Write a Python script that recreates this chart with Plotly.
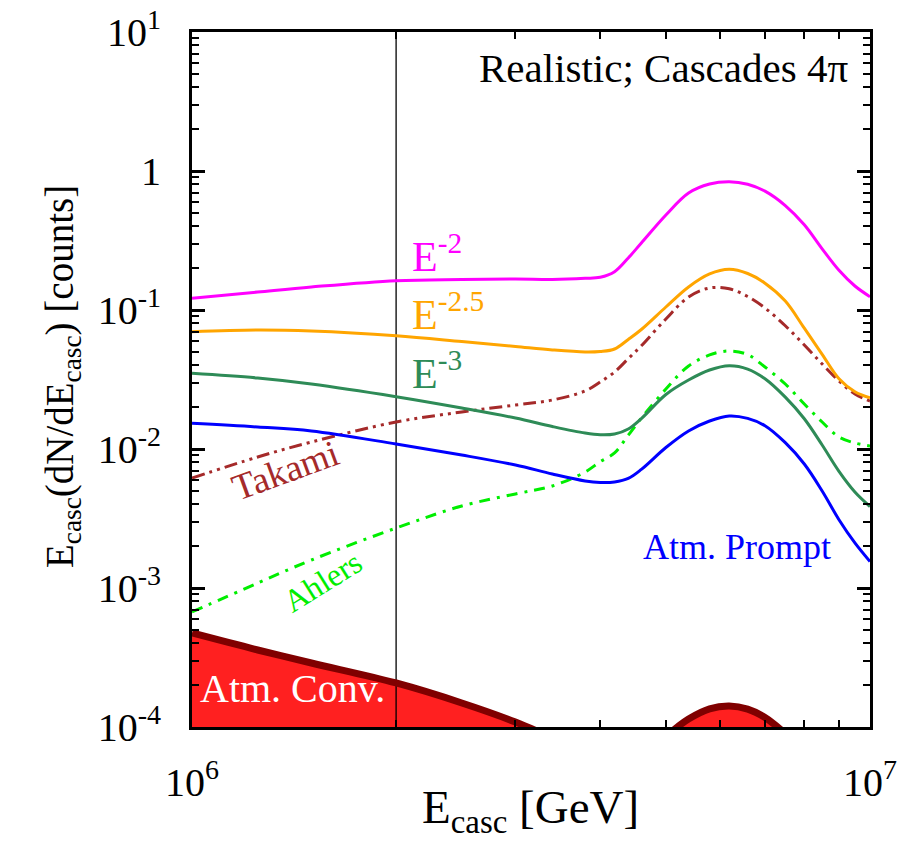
import plotly.graph_objects as go

# ---------------- data ----------------
E_grid = [1.0e6, 1.25e6, 1.5e6, 2.0e6, 2.5e6, 3.0e6, 3.4e6, 3.8e6, 4.0e6, 4.2e6, 4.4e6, 4.6e6, 5.0e6,
          5.4e6, 5.8e6, 6.2e6, 6.6e6, 7.0e6, 7.5e6, 8.0e6, 8.5e6, 9.0e6, 9.5e6, 1.0e7]

E2 = [0.1213, 0.1347, 0.1464, 0.1625, 0.1657, 0.1671, 0.1660, 0.1690, 0.1719, 0.1885, 0.2366, 0.3034, 0.4826,
      0.6945, 0.806, 0.8375, 0.803, 0.716, 0.564, 0.410, 0.275, 0.193, 0.1488, 0.1246]

E25 = [0.0698, 0.0718, 0.0706, 0.0653, 0.0593, 0.0546, 0.0516, 0.0499, 0.0503, 0.0524, 0.0614, 0.0724, 0.1051,
       0.1464, 0.1816, 0.1963, 0.1830, 0.1560, 0.1160, 0.0740, 0.0480, 0.0320, 0.0258, 0.0233]

E3 = [0.03505, 0.0324, 0.02935, 0.02378, 0.01972, 0.0167, 0.01452, 0.01303, 0.01266, 0.01282, 0.01393, 0.01655,
      0.02467, 0.03136, 0.03701, 0.03975, 0.03760, 0.03200, 0.02360, 0.01650, 0.01068, 0.00690, 0.0049, 0.00385]

prompt = [0.01531, 0.0144, 0.01348, 0.01086, 0.00905, 0.00767, 0.00661, 0.00589, 0.00574, 0.00579, 0.00614,
          0.00713, 0.01025, 0.01348, 0.0159, 0.01728, 0.01660, 0.01470, 0.01110, 0.0078, 0.00499, 0.00310,
          0.00211, 0.00155]

takami = [0.00618, 0.00876, 0.01123, 0.01564, 0.01846, 0.02073, 0.02252, 0.02615, 0.03034, 0.03581, 0.0447,
          0.05527, 0.08617, 0.1241, 0.144, 0.142, 0.1250, 0.1034, 0.077, 0.056, 0.0409, 0.03084, 0.02487,
          0.02215]

ahlers = [0.000672, 0.001086, 0.00159, 0.0027, 0.00389, 0.00475, 0.00542, 0.00683, 0.0081, 0.00936, 0.01257,
          0.0167, 0.027, 0.03955, 0.0475, 0.0507, 0.0478, 0.0389, 0.02935, 0.02107, 0.01564, 0.0122, 0.01104,
          0.01051]

conv_E_low = [1.0e6, 1.25e6, 1.5e6, 2.0e6, 2.5e6, 3.0e6, 3.3e6]
conv_low = [4.745e-4, 3.58e-4, 2.887e-4, 2.073e-4, 1.489e-4, 1.086e-4, 8.9e-5]

conv_E_bump = [5.0e6, 5.2e6, 5.4e6, 5.8e6, 6.2e6, 6.6e6, 7.0e6, 7.5e6]
conv_bump = [8.5e-5, 1.0e-4, 1.143e-4, 1.352e-4, 1.415e-4, 1.344e-4, 1.17e-4, 8.97e-5]

x_ticks = [1e6, 1e7]
x_ticktext = ['10<sup>6</sup>', '10<sup>7</sup>']
y_ticks = [1e-4, 1e-3, 1e-2, 1e-1, 1, 10]
y_ticktext = ['10<sup>-4</sup>', '10<sup>-3</sup>', '10<sup>-2</sup>', '10<sup>-1</sup>', '1', '10<sup>1</sup>']
E_cut = 2.0e6

# ---------------- figure ----------------
FONT = 'Liberation Serif'
W, H = 912, 856
L, R, T, B = 192, 870, 32, 727


def px(xp):
    return (xp - L) / (R - L)


def py(yp):
    return (B - yp) / (B - T)


fig = go.Figure()

FLOOR = 1e-6
# Atm. Conv. filled areas
fig.add_trace(go.Scatter(x=conv_E_low + [conv_E_low[-1], conv_E_low[0]],
                         y=conv_low + [FLOOR, FLOOR], mode='lines', fill='toself',
                         fillcolor='#ff2020', line=dict(width=0), hoverinfo='skip', showlegend=False))
fig.add_trace(go.Scatter(x=conv_E_bump + [conv_E_bump[-1], conv_E_bump[0]],
                         y=conv_bump + [FLOOR, FLOOR], mode='lines', fill='toself',
                         fillcolor='#ff2020', line=dict(width=0), hoverinfo='skip', showlegend=False))

# vertical line
fig.add_trace(go.Scatter(x=[E_cut, E_cut], y=[1e-4, 10], mode='lines',
                         line=dict(color='black', width=1.3), showlegend=False))

fig.add_trace(go.Scatter(x=conv_E_low, y=conv_low, mode='lines', line=dict(color='#800000', width=7, shape='spline'),
                         showlegend=False))
fig.add_trace(go.Scatter(x=conv_E_bump, y=conv_bump, mode='lines', line=dict(color='#800000', width=7, shape='spline'),
                         showlegend=False))

series = [
    (ahlers, '#00ee00', '11px,7px,3px,7px'),
    (takami, '#a52a2a', '13px,5px,3px,5px,3px,5px'),
    (prompt, '#0000ff', 'solid'),
    (E3, '#2e8b57', 'solid'),
    (E25, '#ffa500', 'solid'),
    (E2, '#ff00ff', 'solid'),
]
for ys, col, dash in series:
    fig.add_trace(go.Scatter(x=E_grid, y=ys, mode='lines',
                             line=dict(color=col, width=3, dash=dash, shape='spline', smoothing=1.0),
                             showlegend=False))

y_minor = [m * 10.0 ** k for k in range(-4, 1) for m in range(2, 10)]
x_minor = [m * 1e6 for m in range(2, 10)]

axis_common = dict(type='log', showgrid=False, zeroline=False, showline=True, linecolor='black', linewidth=3,
                   mirror='ticks', ticks='inside', ticklen=13, tickwidth=2.5, tickcolor='black',
                   tickmode='array', automargin=False, tickfont=dict(family=FONT, size=40, color='black'))

fig.update_xaxes(range=[6, 7], tickvals=x_ticks, ticktext=x_ticktext, ticklabelstandoff=18,
                 minor=dict(tickmode='array', tickvals=x_minor, ticks='inside', ticklen=7, tickwidth=2,
                            tickcolor='black', showgrid=False), **axis_common)
fig.update_yaxes(range=[-4, 1], tickvals=y_ticks, ticktext=y_ticktext, ticklabelstandoff=20,
                 minor=dict(tickmode='array', tickvals=y_minor, ticks='inside', ticklen=7, tickwidth=2,
                            tickcolor='black', showgrid=False), **axis_common)


def ann(text, x, y, color, size, xanchor='left', yanchor='middle', angle=0):
    fig.add_annotation(text=text, x=px(x), y=py(y), xref='paper', yref='paper', showarrow=False,
                       xanchor=xanchor, yanchor=yanchor, textangle=angle,
                       font=dict(family=FONT, size=size, color=color))


ann('Realistic; Cascades 4π', 850, 68, 'black', 41, xanchor='right')
ann('E<sup>-2</sup>', 410, 253, '#ff00ff', 42)
ann('E<sup>-2.5</sup>', 410, 311, '#ffa500', 42)
ann('E<sup>-3</sup>', 410, 370, '#2e8b57', 42)
ann('Atm. Prompt', 737, 547, '#0000ff', 36, xanchor='center')
ann('Atm. Conv.', 292, 688, 'white', 40, xanchor='center')
ann('Takami', 285, 470, '#a52a2a', 37, xanchor='center', angle=-20)
ann('Ahlers', 322, 582, '#00ee00', 32, xanchor='center', angle=-32)

# axis titles
ann('E<sub>casc</sub>(dN/dE<sub>casc</sub>) [counts]', 62, 377, 'black', 39, xanchor='center', angle=-90)
ann('E<sub>casc</sub> [GeV]', 530, 810, 'black', 47, xanchor='center')

fig.update_layout(width=W, height=H, autosize=False,
                  margin=dict(l=L, r=W - R, t=T, b=H - B),
                  paper_bgcolor='white', plot_bgcolor='white', showlegend=False)

fig.write_html('out.html', config={'displayModeBar': False},
               post_script="document.body.style.margin='0';document.body.style.padding='0';")
